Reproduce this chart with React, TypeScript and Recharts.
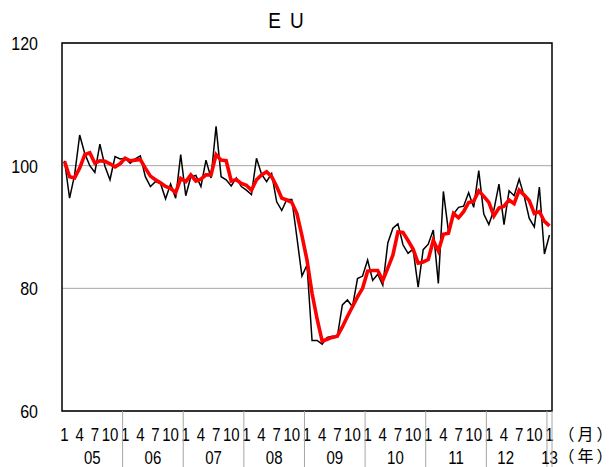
import React from 'react';
import { LineChart, Line, XAxis, YAxis, CartesianGrid, ReferenceArea } from 'recharts';

// Monthly index values, Jan 2005 .. Jan 2013
const monthly = [
  100.8, 94.7, 98.5, 105.0, 102.0, 100.0, 98.9, 103.5, 99.9, 97.7, 101.5, 101.1,
  101.2, 100.4, 101.1, 101.6, 98.2, 96.6, 97.4, 97.1, 94.6, 97.0, 94.7, 101.8,
  95.1, 98.2, 98.4, 96.6, 100.9, 98.0, 106.4, 98.2, 97.7, 96.7, 98.0, 96.6,
  96.0, 95.3, 101.2, 98.6, 97.4, 98.7, 94.1, 92.7, 94.5, 94.5, 88.3, 82.0,
  83.8, 71.5, 71.5, 70.9, 72.0, 72.2, 72.1, 77.3, 78.1, 77.0, 81.6, 82.0,
  84.6, 81.3, 82.3, 80.5, 87.4, 89.8, 90.5, 87.1, 85.7, 86.4, 80.2, 86.3,
  87.2, 89.5, 80.8, 95.8, 89.3, 92.1, 93.2, 93.4, 95.6, 93.2, 99.2, 92.1,
  90.4, 92.8, 97.0, 90.4, 95.9, 95.1, 97.8, 95.0, 91.4, 90.0, 96.5, 85.6,
  88.7,
];

// Smoothed (red) series
const smoothed = [
  100.7, 98.2, 98.0, 99.6, 101.8, 102.1, 100.4, 100.8, 100.7, 100.3, 99.8, 100.3,
  101.2, 100.8, 100.9, 101.0, 99.6, 98.3, 97.7, 97.2, 96.6, 96.3, 95.6, 97.9,
  97.4, 98.5, 97.5, 97.8, 98.5, 98.5, 101.8, 100.9, 100.8, 97.5, 97.7, 97.1,
  96.8, 96.0, 97.7, 98.5, 99.0, 98.2, 96.6, 94.7, 94.4, 94.0, 92.2, 88.6,
  84.6, 79.2, 75.0, 71.4, 71.7, 72.0, 72.2, 73.7, 75.4, 77.0, 78.6, 80.0,
  82.8, 82.9, 82.9, 81.3, 83.3, 85.4, 89.2, 89.1, 87.8, 86.4, 84.1, 84.3,
  84.7, 87.8, 86.1, 88.8, 89.0, 92.2, 91.5, 92.5, 94.0, 94.2, 95.9, 95.0,
  94.0, 91.8, 93.1, 93.4, 94.4, 93.8, 96.0, 95.2, 94.3, 92.2, 92.5, 90.9,
  90.2,
];

const yearLabels = ['05', '06', '07', '08', '09', '10', '11', '12', '13'];
const monthTickLabels: Record<number, string> = { 1: '1', 4: '4', 7: '7', 10: '10' };
const yTicks = [60, 80, 100, 120];
const title = 'E U';
const monthUnit = ['（', '月', '）'];
const yearUnit = ['（', '年', '）'];

const data = monthly.map((v, i) => ({ idx: i, monthly: v, smoothed: smoothed[i] }));
const xTicks = data.map((d) => d.idx);
const lastIdx = data.length - 1;

const FONT = '"Liberation Sans", Arial, sans-serif';
const CJK = '"Noto Sans CJK JP", sans-serif';
const STRETCH = 1.28;

const StretchText = ({ x, y, anchor = 'middle', size = 15, family = FONT, s = STRETCH, children }: any) => (
  <g transform={`translate(${x},${y}) scale(1,${s})`}>
    <text x={0} y={0} textAnchor={anchor} fontSize={size} fontFamily={family} fill="#000">
      {children}
    </text>
  </g>
);

const UnitText = ({ x, y, parts }: any) => (
  <text x={0} y={y} fontSize={16} fontFamily={CJK} fill="#000" textAnchor="middle">
    {parts.map((p: string, k: number) => (
      <tspan key={k} x={x + k * 19}>
        {p}
      </tspan>
    ))}
  </text>
);

const XTick = (props: any) => {
  const { x, y, payload } = props;
  const i: number = payload.value;
  const month = (i % 12) + 1;
  const yearIdx = Math.floor(i / 12);
  const half = 490 / 97 / 2;
  const els: React.ReactNode[] = [];
  const ml = monthTickLabels[month];
  if (ml) {
    els.push(
      <StretchText key="m" x={x} y={y + 30}>
        {ml}
      </StretchText>
    );
  }
  if (month === 1 && i > 0) {
    els.push(<line key="s" x1={x - half} x2={x - half} y1={y} y2={y + 60} stroke="#a6a6a6" strokeWidth={1} />);
  }
  if (month === 6 || i === lastIdx) {
    const off = i === lastIdx ? 0 : yearLabels[yearIdx] === '12' ? half - 11 : half;
    els.push(
      <StretchText key="y" x={x + off} y={y + 53}>
        {yearLabels[yearIdx]}
      </StretchText>
    );
  }
  if (i === lastIdx) {
    els.push(<line key="e" x1={x + half} x2={x + half} y1={y} y2={y + 60} stroke="#a6a6a6" strokeWidth={1} />);
    els.push(<UnitText key="mu" x={x + 17} y={y + 29} parts={monthUnit} />);
    els.push(<UnitText key="yu" x={x + 17} y={y + 51} parts={yearUnit} />);
  }
  return <g>{els}</g>;
};

const YTick = (props: any) => {
  const { x, y, payload } = props;
  return (
    <StretchText x={x} y={y + 7} anchor="end" size={16} s={1.2}>
      {payload.value}
    </StretchText>
  );
};

export default function App() {
  return (
    <div style={{ position: 'absolute', left: 0, top: 0, width: 616, height: 467, background: '#fff' }}>
      <div
        style={{
          position: 'absolute',
          left: 287,
          top: 9,
          transform: 'translateX(-50%) scale(1,1.2)',
          transformOrigin: 'center top',
          fontFamily: FONT,
          fontSize: 19,
          letterSpacing: '2px',
          lineHeight: '20px',
          whiteSpace: 'pre',
          color: '#000',
        }}
      >
        {title}
      </div>
      <LineChart width={616} height={467} data={data} margin={{ top: 43, right: 64, bottom: 0, left: 2 }}>
        <CartesianGrid vertical={false} stroke="#a6a6a6" strokeWidth={1} />
        <XAxis
          dataKey="idx"
          type="number"
          domain={[-0.5, 96.5]}
          ticks={xTicks}
          interval={0}
          tick={<XTick />}
          tickLine={false}
          axisLine={false}
          tickSize={0}
          tickMargin={0}
          height={56}
          allowDataOverflow
        />
        <YAxis
          domain={[60, 120]}
          ticks={yTicks}
          interval={0}
          tickLine={false}
          axisLine={false}
          tickSize={0}
          tickMargin={24}
          width={60}
          tick={<YTick />}
        />
        <Line
          type="linear"
          dataKey="monthly"
          stroke="#000"
          strokeWidth={1.5}
          dot={false}
          isAnimationActive={false}
        />
        <Line
          type="linear"
          dataKey="smoothed"
          stroke="#ff0000"
          strokeWidth={3.6}
          dot={false}
          isAnimationActive={false}
        />
        <ReferenceArea x1={-0.5} x2={96.5} y1={60} y2={120} fill="none" stroke="#000" strokeWidth={1.5} />
      </LineChart>
    </div>
  );
}
